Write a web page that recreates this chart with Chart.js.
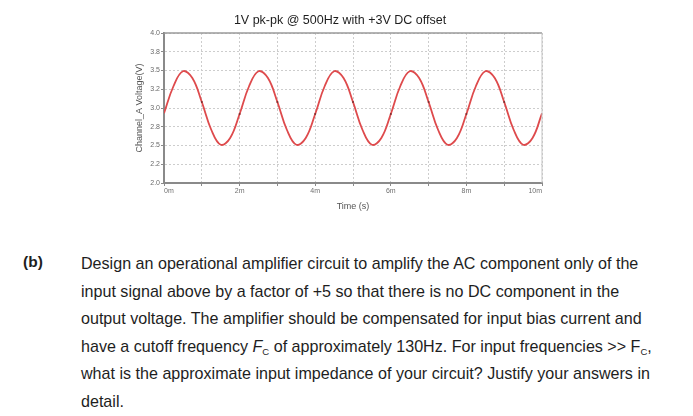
<!DOCTYPE html>
<html>
<head>
<meta charset="utf-8">
<script src="https://cdn.jsdelivr.net/npm/chart.js@4/dist/chart.umd.min.js"></script>
<style>
    body { margin: 0; background: #ffffff; width: 693px; height: 416px; overflow: hidden; position: relative; }
    #chartBox { position: absolute; left: 110px; top: 0; width: 460px; height: 220px; }
    .question { position: absolute; font-family: "Liberation Sans", Arial, sans-serif; font-size: 16.1px; color: #1e1e1e; white-space: nowrap; }
    .label { left: 23px; top: 253px; font-weight: bold; font-size: 15.5px; }
    .body { left: 81px; top: 250px; line-height: 27.6px; }
    sub { font-size: 9.5px; position: relative; top: 3px; vertical-align: baseline; line-height: 0; }
</style>
</head>
<body>
<div id="chartBox"><canvas id="scope"></canvas></div>

<div class="question label">(b)</div>
<div class="question body">
    Design an operational amplifier circuit to amplify the AC component only of the<br>
    input signal above by a factor of +5 so that there is no DC component in the<br>
    output voltage. The amplifier should be compensated for input bias current and<br>
    have a cutoff frequency <i>F</i><sub>C</sub> of approximately 130Hz. For input frequencies &gt;&gt; F<sub>C</sub>,<br>
    what is the approximate input impedance of your circuit? Justify your answers in<br>
    detail.
</div>

<script>
// time axis in ms, sample every 0.25 ms
const timeMs = [
    0, 0.25, 0.5, 0.75, 1, 1.25, 1.5, 1.75,
    2, 2.25, 2.5, 2.75, 3, 3.25, 3.5, 3.75,
    4, 4.25, 4.5, 4.75, 5, 5.25, 5.5, 5.75,
    6, 6.25, 6.5, 6.75, 7, 7.25, 7.5, 7.75,
    8, 8.25, 8.5, 8.75, 9, 9.25, 9.5, 9.75,
    10
];

// Channel_A voltage (V)
const channelA = [
    2.93, 3.29, 3.49, 3.40, 3.08, 2.71, 2.51, 2.60,
    2.92, 3.29, 3.49, 3.40, 3.08, 2.71, 2.51, 2.60,
    2.92, 3.29, 3.49, 3.40, 3.08, 2.71, 2.51, 2.60,
    2.92, 3.29, 3.49, 3.40, 3.08, 2.71, 2.51, 2.60,
    2.92, 3.29, 3.49, 3.40, 3.08, 2.71, 2.51, 2.60,
    2.93
];

const yTickValues = [2.0, 2.25, 2.5, 2.75, 3.0, 3.25, 3.5, 3.75, 4.0];
const yTickLabels = ['2.0', '2.2', '2.5', '2.8', '3.0', '3.2', '3.5', '3.8', '4.0'];
const xTickValues = [0, 2, 4, 6, 8, 10];
const xTickLabels = ['0m', '2m', '4m', '6m', '8m', '10m'];

// light frame on top and right of the plot
const frame = {
    id: 'frame',
    afterDraw(chart) {
        const { ctx, chartArea: a } = chart;
        ctx.save();
        ctx.strokeStyle = '#9a9a9a';
        ctx.lineWidth = 1.5;
        ctx.beginPath();
        ctx.moveTo(a.left, a.top);
        ctx.lineTo(a.right, a.top);
        ctx.stroke();
        ctx.strokeStyle = '#c4c4c4';
        ctx.lineWidth = 1;
        ctx.beginPath();
        ctx.moveTo(a.right, a.top);
        ctx.lineTo(a.right, a.bottom);
        ctx.stroke();
        ctx.restore();
    }
};

const ctx = document.getElementById('scope').getContext('2d');

new Chart(ctx, {
    type: 'line',
    data: {
        datasets: [{
            label: 'Channel_A',
            data: timeMs.map((t, i) => ({ x: t, y: channelA[i] })),
            borderColor: '#de4a4c',
            borderWidth: 1.8,
            tension: 0.4,
            pointRadius: c => (c.dataIndex % 4 === 0 && c.dataIndex > 0 && c.dataIndex < 40) ? 1 : 0,
            pointBackgroundColor: '#7c3030',
            pointBorderWidth: 0,
            fill: false
        }]
    },
    options: {
        responsive: true,
        maintainAspectRatio: false,
        animation: false,
        layout: { padding: 0 },
        plugins: {
            legend: { display: false },
            tooltip: { enabled: false },
            title: {
                display: true,
                text: '1V pk-pk @ 500Hz with +3V DC offset',
                color: '#1e1e1e',
                font: { family: 'Liberation Sans', size: 12.5, weight: 'normal' },
                padding: { top: 13, bottom: 5 }
            }
        },
        scales: {
            x: {
                type: 'linear',
                min: 0,
                max: 10,
                afterFit: scale => { scale.height = 37; },
                afterBuildTicks: scale => {
                    scale.ticks = [0, 1, 2, 3, 4, 5, 6, 7, 8, 9, 10].map(v => ({ value: v }));
                },
                ticks: {
                    align: 'inner',
                    autoSkip: false,
                    maxRotation: 0,
                    padding: 1,
                    color: '#707070',
                    font: { family: 'Liberation Sans', size: 7 },
                    callback: v => {
                        const i = xTickValues.indexOf(v);
                        return i >= 0 ? xTickLabels[i] : '';
                    }
                },
                grid: {
                    color: '#cdcdcd',
                    tickLength: 3,
                    tickColor: '#8a8a8a',
                    tickBorderDash: []
                },
                border: { color: '#8a8a8a', width: 2, dash: [2, 2] },
                title: {
                    display: true,
                    text: 'Time (s)',
                    color: '#555555',
                    font: { family: 'Liberation Sans', size: 9 },
                    padding: { top: 0, bottom: 8 }
                }
            },
            y: {
                type: 'linear',
                min: 2,
                max: 4,
                afterFit: scale => { scale.width = 54; },
                afterBuildTicks: scale => {
                    scale.ticks = yTickValues.map(v => ({ value: v }));
                },
                ticks: {
                    autoSkip: false,
                    padding: 1,
                    color: '#6a6a6a',
                    font: { family: 'Liberation Sans', size: 7 },
                    callback: v => {
                        const i = yTickValues.indexOf(v);
                        return i >= 0 ? yTickLabels[i] : '';
                    }
                },
                grid: {
                    color: '#cdcdcd',
                    tickLength: 3,
                    tickColor: '#8a8a8a',
                    tickBorderDash: []
                },
                border: { color: '#8a8a8a', width: 2, dash: [2, 2] },
                title: {
                    display: true,
                    text: 'Channel_A Voltage(V)',
                    color: '#555555',
                    font: { family: 'Liberation Sans', size: 9 },
                    padding: { top: 24, bottom: 0 }
                }
            },
            // empty spacer on the right so the title centres like the original
            yRight: {
                type: 'linear',
                position: 'right',
                min: 2,
                max: 4,
                afterFit: scale => { scale.width = 28; },
                ticks: { display: false },
                grid: { display: false },
                border: { display: false }
            }
        }
    },
    plugins: [frame]
});
</script>
</body>
</html>
